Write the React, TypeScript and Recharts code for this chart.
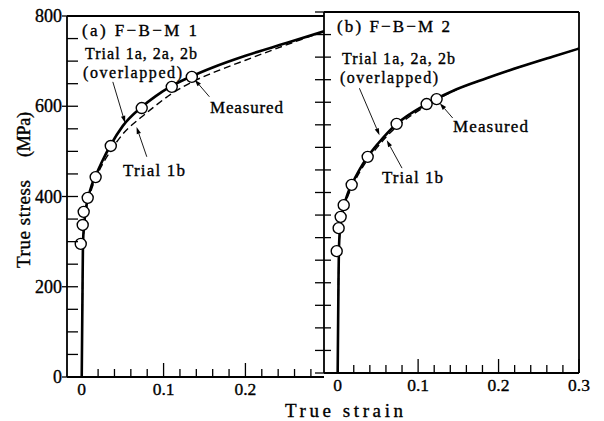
import React from 'react';
import { ComposedChart, Line, XAxis, YAxis, ReferenceLine } from 'recharts';

const FONT = 'Liberation Serif, DejaVu Serif, Times New Roman, serif';

// ---- tick values ----
const strainTicksA = [0, 0.02, 0.04, 0.06, 0.08, 0.1, 0.12, 0.14, 0.16, 0.18, 0.2, 0.22, 0.24, 0.26, 0.28];
const strainTicksB = [0, 0.02, 0.04, 0.06, 0.08, 0.1, 0.12, 0.14, 0.16, 0.18, 0.2, 0.22, 0.24, 0.26, 0.28, 0.3];
const stressTicks = [0, 50, 100, 150, 200, 250, 300, 350, 400, 450, 500, 550, 600, 650, 700, 750, 800];
const stressLabels = [0, 200, 400, 600, 800];

// ---- panel (a) F-B-M 1 ----
const measuredA = [
  { x: -0.0012, y: 295 }, { x: 0.0012, y: 337 }, { x: 0.0024, y: 366 }, { x: 0.0073, y: 397 },
  { x: 0.017, y: 443 }, { x: 0.0355, y: 512 }, { x: 0.0733, y: 596 }, { x: 0.11, y: 643 }, { x: 0.1345, y: 665 },
];
const trialOverlapA = [
  { x: 0, y: 0 }, { x: 0.001, y: 200 }, { x: 0.0015, y: 295 }, { x: 0.003, y: 338 }, { x: 0.0045, y: 366 },
  { x: 0.008, y: 398 }, { x: 0.012, y: 424 }, { x: 0.017, y: 446 }, { x: 0.025, y: 478 }, { x: 0.035, y: 513 },
  { x: 0.05, y: 556 }, { x: 0.073, y: 598 }, { x: 0.09, y: 622 }, { x: 0.11, y: 645 }, { x: 0.135, y: 667 },
  { x: 0.16, y: 686 }, { x: 0.2, y: 712 }, { x: 0.25, y: 740 }, { x: 0.296, y: 766 },
];
const trial1bA = [
  { x: 0, y: 0 }, { x: 0.001, y: 200 }, { x: 0.0015, y: 292 }, { x: 0.003, y: 334 }, { x: 0.0045, y: 360 },
  { x: 0.008, y: 390 }, { x: 0.012, y: 416 }, { x: 0.02, y: 452 }, { x: 0.035, y: 500 }, { x: 0.05, y: 538 },
  { x: 0.073, y: 576 }, { x: 0.09, y: 601 }, { x: 0.11, y: 628 }, { x: 0.135, y: 654 }, { x: 0.16, y: 674 },
  { x: 0.2, y: 702 }, { x: 0.25, y: 736 }, { x: 0.296, y: 766 },
];

// ---- panel (b) F-B-M 2 ----
const measuredB = [
  { x: -0.0012, y: 270 }, { x: 0.0012, y: 321 }, { x: 0.0037, y: 346 }, { x: 0.0075, y: 372 },
  { x: 0.0174, y: 417 }, { x: 0.0373, y: 479 }, { x: 0.0733, y: 552 }, { x: 0.1106, y: 596 }, { x: 0.123, y: 607 },
];
const trialOverlapB = [
  { x: 0, y: 0 }, { x: 0.001, y: 200 }, { x: 0.0015, y: 270 }, { x: 0.003, y: 322 }, { x: 0.005, y: 348 },
  { x: 0.008, y: 372 }, { x: 0.012, y: 395 }, { x: 0.0174, y: 417 }, { x: 0.027, y: 450 }, { x: 0.0373, y: 479 },
  { x: 0.05, y: 508 }, { x: 0.0733, y: 552 }, { x: 0.09, y: 574 }, { x: 0.1106, y: 596 }, { x: 0.123, y: 608 },
  { x: 0.143, y: 625 }, { x: 0.185, y: 653 }, { x: 0.226, y: 678 }, { x: 0.267, y: 701 }, { x: 0.3, y: 719 },
];
const trial1bB = [
  { x: 0, y: 0 }, { x: 0.001, y: 200 }, { x: 0.0015, y: 268 }, { x: 0.003, y: 318 }, { x: 0.005, y: 344 },
  { x: 0.008, y: 367 }, { x: 0.012, y: 389 }, { x: 0.0174, y: 411 }, { x: 0.027, y: 444 }, { x: 0.0373, y: 473 },
  { x: 0.05, y: 502 }, { x: 0.0733, y: 546 }, { x: 0.09, y: 569 }, { x: 0.1106, y: 592 }, { x: 0.123, y: 605 },
  { x: 0.143, y: 624 }, { x: 0.185, y: 653 }, { x: 0.226, y: 678 }, { x: 0.267, y: 701 }, { x: 0.3, y: 719 },
];

// ---- annotation arrows (tail -> head, data coordinates) ----
const arrowsA = [
  [{ x: 0.038, y: 654 }, { x: 0.053, y: 563 }],
  [{ x: 0.156, y: 621 }, { x: 0.138, y: 659 }],
  [{ x: 0.0795, y: 488 }, { x: 0.067, y: 554 }],
];
const arrowsB = [
  [{ x: 0.027, y: 631 }, { x: 0.052, y: 527 }],
  [{ x: 0.143, y: 565 }, { x: 0.127, y: 598 }],
  [{ x: 0.08, y: 454 }, { x: 0.061, y: 516 }],
];

const isMajorStrain = (v: number) => Math.abs(v * 10 - Math.round(v * 10)) < 1e-6;
const fmtStrain = (v: number) => (Math.abs(v) < 1e-9 ? '0' : v.toFixed(1));
const TXT = { fontFamily: FONT, fill: '#000', stroke: '#000', strokeWidth: 0.35 };

const XTick = (props: any) => {
  const { x, y, payload } = props;
  const v = payload.value as number;
  const major = isMajorStrain(v);
  const len = major ? 14 : 8;
  return (
    <g>
      <line x1={x} y1={y} x2={x} y2={y - len} stroke="#000" strokeWidth={1.3} />
      {major && (
        <text x={x} y={y + 18} textAnchor="middle" fontSize={17.5} {...TXT}>
          {fmtStrain(v)}
        </text>
      )}
    </g>
  );
};

const YTickLeft = (props: any) => {
  const { x, y, payload } = props;
  const v = payload.value as number;
  const major = stressLabels.includes(v);
  return (
    <g>
      <line x1={x - (major ? 5 : 0)} y1={y} x2={x + 11} y2={y} stroke="#000" strokeWidth={1.3} />
      {major && (
        <text x={x - 5} y={y + 6} textAnchor="end" fontSize={18} {...TXT}>
          {v}
        </text>
      )}
    </g>
  );
};

const YTickDivider = (props: any) => {
  const { x, y } = props;
  return <line x1={x - 9} y1={y} x2={x + 7} y2={y} stroke="#000" strokeWidth={1.3} />;
};

const Arrow = (props: any) => {
  const { x1, y1, x2, y2 } = props;
  const ang = Math.atan2(y2 - y1, x2 - x1);
  const L = 7;
  const Wd = 2.2;
  const bx = x2 - L * Math.cos(ang);
  const by = y2 - L * Math.sin(ang);
  const px = -Math.sin(ang) * Wd;
  const py = Math.cos(ang) * Wd;
  return (
    <g>
      <line x1={x1} y1={y1} x2={bx} y2={by} stroke="#000" strokeWidth={0.9} />
      <polygon points={`${x2},${y2} ${bx + px},${by + py} ${bx - px},${by - py}`} fill="#000" />
    </g>
  );
};

const dotStyle = { r: 5.5, fill: '#fff', stroke: '#000', strokeWidth: 1.4 };
const W = 604;
const H = 421;

const Panel = (p: {
  margin: any; domain: [number, number]; xticks: number[]; leftTick: any;
  overlap: any[]; trial1b: any[]; measured: any[]; arrows: any[]; rightBorder: boolean;
}) => (
  <ComposedChart width={W} height={H} margin={p.margin}>
    <XAxis
      type="number" dataKey="x" domain={p.domain} allowDataOverflow ticks={p.xticks} interval={0}
      height={1} tickSize={0} tickMargin={0} tickLine={false} tick={XTick}
      axisLine={{ stroke: '#000', strokeWidth: 1.8 }}
    />
    <YAxis
      type="number" dataKey="y" domain={[0, 800]} allowDataOverflow ticks={stressTicks} interval={0}
      width={1} tickSize={0} tickMargin={0} tickLine={false} tick={p.leftTick}
      axisLine={{ stroke: '#000', strokeWidth: 1.8 }}
    />
    <ReferenceLine y={800} stroke="#000" strokeWidth={1.8} />
    {p.rightBorder && <ReferenceLine x={0.3} stroke="#000" strokeWidth={1.8} />}
    <Line data={p.trial1b} dataKey="y" type="monotone" stroke="#000" strokeWidth={1.4}
      strokeDasharray="7 4" dot={false} isAnimationActive={false} />
    <Line data={p.overlap} dataKey="y" type="monotone" stroke="#000" strokeWidth={2.6}
      dot={false} isAnimationActive={false} />
    <Line data={p.measured} dataKey="y" stroke="none" dot={dotStyle} activeDot={false}
      isAnimationActive={false} />
    {p.arrows.map((seg: any, i: number) => (
      <ReferenceLine key={i} segment={seg} shape={Arrow} />
    ))}
  </ComposedChart>
);

const T = (props: any) => (
  <text fontSize={16} lengthAdjust="spacing" {...TXT} {...props} />
);

export default function App() {
  const layer: React.CSSProperties = { position: 'absolute', left: 0, top: 0 };
  return (
    <div style={{ position: 'absolute', left: 0, top: 0, width: W, height: H, background: '#fff' }}>
      <div style={layer}>
        <Panel
          margin={{ top: 16, right: W - 324, bottom: H - 377 - 1, left: 66 }}
          domain={[-0.018, 0.296]} xticks={strainTicksA} leftTick={YTickLeft}
          overlap={trialOverlapA} trial1b={trial1bA} measured={measuredA} arrows={arrowsA}
          rightBorder={false}
        />
      </div>
      <div style={layer}>
        <Panel
          margin={{ top: 12, right: W - 579, bottom: H - 373 - 1, left: 323 }}
          domain={[-0.017, 0.3]} xticks={strainTicksB} leftTick={YTickDivider}
          overlap={trialOverlapB} trial1b={trial1bB} measured={measuredB} arrows={arrowsB}
          rightBorder={true}
        />
      </div>
      <svg width={W} height={H} style={{ ...layer, pointerEvents: 'none' }}>
        <T x={82} y={36} fontSize={17} textLength={115}>(a) F−B−M 1</T>
        <T x={85} y={59} textLength={112}>Trial 1a, 2a, 2b</T>
        <T x={83} y={78} textLength={99}>(overlapped)</T>
        <T x={210} y={113} fontSize={17} textLength={73}>Measured</T>
        <T x={123} y={176} fontSize={17} textLength={62}>Trial 1b</T>

        <T x={337} y={32} fontSize={17} textLength={113}>(b) F−B−M 2</T>
        <T x={342} y={64} textLength={113}>Trial 1a, 2a, 2b</T>
        <T x={340} y={83} textLength={98}>(overlapped)</T>
        <T x={453} y={132} fontSize={17} textLength={75}>Measured</T>
        <T x={382} y={183} fontSize={17} textLength={61}>Trial 1b</T>

        <T x={285} y={417} fontSize={19} textLength={118}>True strain</T>
        <T x={30} y={268} fontSize={19} textLength={88} transform="rotate(-90 30 268)">True stress</T>
        <T x={30} y={157} fontSize={18} textLength={45} transform="rotate(-90 30 157)">(MPa)</T>
      </svg>
    </div>
  );
}
